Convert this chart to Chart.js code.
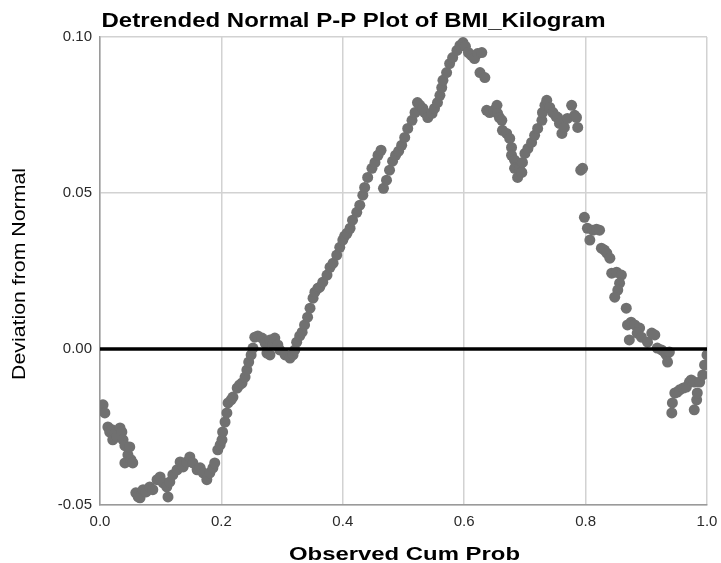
<!DOCTYPE html>
<html>
<head>
<meta charset="utf-8">
<script src="https://cdn.jsdelivr.net/npm/chart.js@4.4.1/dist/chart.umd.min.js"></script>
<style>
  html, body { margin: 0; padding: 0; background: #ffffff; }
  #wrap { width: 721px; height: 563px; position: relative; }
</style>
</head>
<body>
<div id="wrap"><canvas id="c" width="721" height="563"></canvas></div>
<script>
// ---- Data ----
const chartTitle = "Detrended Normal P-P Plot of BMI_Kilogram";
const xAxisTitle = "Observed Cum Prob";
const yAxisTitle = "Deviation from Normal";

const xTicks = [0.0, 0.2, 0.4, 0.6, 0.8, 1.0];
const yTicks = [-0.05, 0.00, 0.05, 0.10];

const observedCumProb = [
  0.000,0.005,0.008,0.013,0.016,0.020,0.021,0.025,0.028,0.033,0.036,0.038,0.041,0.046,0.041,0.049,0.051,0.054,
  0.059,0.063,0.066,0.071,0.076,0.082,0.087,0.094,0.099,0.104,0.110,0.112,0.115,0.120,0.127,0.132,0.137,0.143,
  0.148,0.153,0.160,0.165,0.170,0.176,0.181,0.186,0.189,0.194,0.198,0.201,0.202,0.206,0.209,0.211,0.216,0.219,
  0.226,0.230,0.234,0.239,0.242,0.245,0.249,0.252,0.255,0.260,0.267,0.272,0.275,0.280,0.280,0.285,0.288,0.293,
  0.296,0.305,0.313,0.318,0.321,0.324,0.329,0.333,0.337,0.342,0.346,0.351,0.354,0.359,0.362,0.367,0.374,0.379,
  0.384,0.390,0.395,0.400,0.403,0.407,0.412,0.416,0.423,0.428,0.433,0.436,0.441,0.448,0.453,0.458,0.463,
  0.467,0.472,0.477,0.482,0.487,0.492,0.497,0.502,0.507,0.514,0.519,0.523,0.527,0.532,0.535,0.540,0.547,0.551,
  0.556,0.560,0.563,0.565,0.571,0.576,0.581,0.588,0.593,0.598,0.602,0.607,0.612,0.617,0.622,0.629,0.626,0.634,
  0.637,0.642,0.649,0.654,0.655,0.658,0.662,0.663,0.670,0.675,0.678,0.678,0.683,0.683,0.688,0.691,0.695,0.696,
  0.700,0.705,0.711,0.716,0.721,0.728,0.729,0.733,0.736,0.741,0.746,0.751,0.754,0.757,0.761,0.765,0.770,0.777,
  0.782,0.785,0.787,0.792,0.795,
  0.798,0.803,0.807,0.812,0.818,0.823,0.826,0.831,0.835,0.840,0.843,0.851,0.859,0.856,0.853,0.848,0.867,0.869,
  0.875,0.881,0.889,0.872,0.885,0.892,0.902,0.909,0.914,0.918,0.925,0.930,0.933,0.938,0.935,
  0.942,0.943,0.947,0.951,0.955,0.961,0.966,0.971,0.974,0.979,0.979,0.983,0.984,0.988,0.993,0.996,1.000
];

const deviationFromNormal = [
  -0.0195,-0.0179,-0.0205,-0.0250,-0.0266,-0.0259,-0.0291,-0.0269,-0.0282,-0.0253,-0.0266,-0.0291,-0.0310,-0.0339,-0.0365,-0.0314,-0.0355,-0.0365,
  -0.0461,-0.0474,-0.0477,-0.0451,-0.0458,-0.0442,-0.0451,-0.0419,-0.0410,-0.0429,-0.0442,-0.0474,-0.0426,-0.0403,-0.0387,-0.0362,-0.0378,-0.0362,
  -0.0346,-0.0365,-0.0387,-0.0381,-0.0397,-0.0419,-0.0397,-0.0381,-0.0365,-0.0323,-0.0307,-0.0291,-0.0266,-0.0234,-0.0205,-0.0173,-0.0163,-0.0154,
  -0.0125,-0.0115,-0.0109,-0.0090,-0.0067,-0.0042,-0.0019,0.0003,0.0038,0.0042,0.0035,0.0019,-0.0013,0.0029,-0.0019,0.0013,0.0035,0.0013,
  -0.0003,-0.0019,-0.0029,-0.0019,-0.0003,0.0022,0.0042,0.0054,0.0077,0.0102,0.0131,0.0163,0.0182,0.0195,0.0198,0.0214,0.0237,0.0262,
  0.0275,0.0301,0.0326,0.0349,0.0362,0.0371,0.0387,0.0413,0.0438,0.0461,0.0493,0.0518,0.0550,0.0579,0.0598,0.0621,0.0637,
  0.0515,0.0541,0.0573,0.0602,0.0621,0.0634,0.0653,0.0678,0.0707,0.0733,0.0758,0.0790,0.0781,0.0771,0.0758,0.0742,0.0755,0.0771,
  0.0790,0.0813,0.0838,0.0861,0.0886,0.0915,0.0934,0.0957,0.0973,0.0982,0.0970,0.0950,0.0941,0.0931,0.0947,0.0950,0.0886,0.0870,
  0.0765,0.0758,0.0765,0.0781,0.0755,0.0742,0.0733,0.0701,0.0691,0.0675,0.0646,0.0621,0.0605,0.0579,0.0550,0.0579,0.0566,0.0598,
  0.0627,0.0643,0.0662,0.0685,0.0707,0.0733,0.0758,0.0781,0.0797,0.0774,0.0758,0.0746,0.0742,0.0723,0.0691,0.0710,0.0739,0.0781,
  0.0749,0.0742,0.0710,0.0573,0.0579,
  0.0422,0.0387,0.0349,0.0381,0.0384,0.0381,0.0323,0.0317,0.0307,0.0291,0.0243,0.0246,0.0237,0.0211,0.0189,0.0166,0.0131,0.0077,
  0.0086,0.0077,0.0067,0.0029,0.0051,0.0038,0.0022,0.0051,0.0045,0.0003,-0.0003,-0.0010,-0.0019,-0.0010,-0.0042,
  -0.0205,-0.0173,-0.0141,-0.0138,-0.0131,-0.0125,-0.0122,-0.0106,-0.0099,-0.0106,-0.0195,-0.0163,-0.0141,-0.0106,-0.0083,-0.0051,-0.0019
];

// reference line: zero deviation across the observed range
const refLineX = [0.0, 1.0];
const refLineY = [0.0, 0.0];

// ---- Build datasets ----
const points = observedCumProb.map((x, i) => ({ x: x, y: deviationFromNormal[i] }));
const refLine = refLineX.map((x, i) => ({ x: x, y: refLineY[i] }));

// Custom titles (stretched to the reference's text extents)
const titlePlugin = {
  id: 'stretchedTitles',
  afterDraw(chart) {
    const ctx = chart.ctx;
    function drawText(text, font, x, y, width, rot) {
      ctx.save();
      ctx.font = font;
      ctx.fillStyle = '#000000';
      ctx.textAlign = 'left';
      ctx.textBaseline = 'alphabetic';
      const w = ctx.measureText(text).width;
      ctx.translate(x, y);
      if (rot) ctx.rotate(rot);
      ctx.scale(width / w, 1);
      ctx.fillText(text, 0, 0);
      ctx.restore();
    }
    drawText(chartTitle, 'bold 19.5px "Liberation Sans", Arial, sans-serif', 101.5, 26.5, 504, 0);
    drawText(xAxisTitle, 'bold 18px "Liberation Sans", Arial, sans-serif', 289, 559.5, 231, 0);
    drawText(yAxisTitle, '18px "Liberation Sans", Arial, sans-serif', 25, 380, 212, -Math.PI / 2);
  }
};

new Chart(document.getElementById('c'), {
  type: 'scatter',
  data: {
    datasets: [
      {
        type: 'line',
        data: refLine,
        borderColor: '#000000',
        borderWidth: 3.5,
        pointRadius: 0,
        fill: false,
        order: 0
      },
      {
        type: 'scatter',
        data: points,
        backgroundColor: 'rgb(112,112,112)',
        borderWidth: 0,
        pointRadius: 5.5,
        pointHoverRadius: 5.5,
        order: 1
      }
    ]
  },
  plugins: [titlePlugin],
  options: {
    responsive: false,
    animation: false,
    devicePixelRatio: 1,
    layout: { padding: { top: 37, right: 14, left: 0, bottom: 0 } },
    plugins: {
      legend: { display: false },
      title: { display: false },
      tooltip: { enabled: false }
    },
    scales: {
      x: {
        type: 'linear',
        min: 0,
        max: 1,
        afterBuildTicks(scale) { scale.ticks = xTicks.map(v => ({ value: v })); },
        afterFit(scale) { scale.height = 58; scale.paddingLeft = 0; scale.paddingRight = 0; },
        ticks: {
          callback: v => Number(v).toFixed(1),
          color: '#2a2a2a',
          font: { family: '"Liberation Sans", Arial, sans-serif', size: 15 },
          padding: 8,
          maxRotation: 0,
          autoSkip: false
        },
        grid: { color: '#d2d2d2', lineWidth: 1.5, drawTicks: false },
        border: { color: '#9a9a9a', width: 1.5 }
      },
      y: {
        type: 'linear',
        min: -0.05,
        max: 0.10,
        afterBuildTicks(scale) { scale.ticks = yTicks.map(v => ({ value: v })); },
        afterFit(scale) { scale.width = 100; scale.paddingTop = 0; scale.paddingBottom = 0; },
        ticks: {
          callback: v => Number(v).toFixed(2),
          color: '#2a2a2a',
          font: { family: '"Liberation Sans", Arial, sans-serif', size: 15 },
          padding: 8,
          autoSkip: false
        },
        grid: { color: '#d2d2d2', lineWidth: 1.5, drawTicks: false },
        border: { color: '#9a9a9a', width: 1.5 }
      }
    }
  }
});
</script>
</body>
</html>
